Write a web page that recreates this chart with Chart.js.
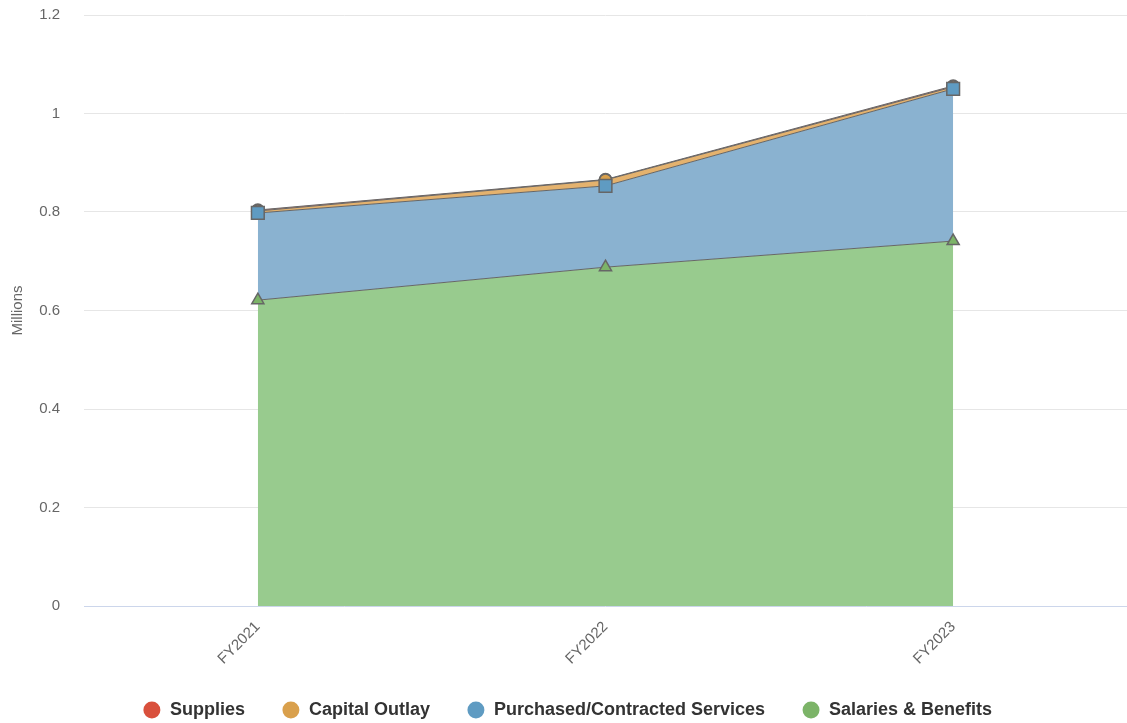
<!DOCTYPE html>
<html>
<head>
<meta charset="utf-8">
<script src="https://cdn.jsdelivr.net/npm/chart.js@4"></script>
<style>
  html, body { margin: 0; padding: 0; background: #fff; }
  #wrap { width: 1127px; height: 723px; }
</style>
</head>
<body>
<div id="wrap"><canvas id="chart" width="1127" height="723"></canvas></div>
<script>
// categories and values (millions)
const years = ["FY2021", "FY2022", "FY2023"];
const salaries = [0.621, 0.688, 0.741];
const purchased = [0.177, 0.165, 0.309];
const capital = [0.004, 0.012, 0.004];
const supplies = [0.002, 0.001, 0.002];
const yTicks = [0, 0.2, 0.4, 0.6, 0.8, 1, 1.2];

const FONT = "'Liberation Sans', Arial, sans-serif";
const LEGEND_PAD = 37;

// markers should not push the plot area in from the right edge
Chart.registry.getController("line").prototype.getMaxOverflow = function () {
  return 0;
};

function series(label, data, fillColor, pointColor, shape, radius, fill) {
  return {
    label: label,
    data: data,
    fill: fill,
    backgroundColor: fillColor,
    borderColor: "#666666",
    borderWidth: 1,
    pointStyle: shape,
    pointRadius: radius,
    pointBackgroundColor: pointColor,
    pointBorderColor: "#666666",
    pointBorderWidth: 1.5,
    tension: 0,
  };
}

// fix the legend box height so the big item gap does not eat vertical space,
// and nudge it a little to the right
const legendBox = {
  id: "legendBox",
  beforeInit(chart) {
    const fit = chart.legend.fit;
    chart.legend.fit = function () {
      fit.call(this);
      this.height = 59;
    };
  },
  afterLayout(chart) {
    chart.legend.left += 4;
    chart.legend.right += 4;
  },
};

const ctx = document.getElementById("chart").getContext("2d");
new Chart(ctx, {
  type: "line",
  data: {
    labels: years,
    datasets: [
      series("Salaries & Benefits", salaries, "rgba(152,203,142,1)", "#7cb468", "triangle", 7, "origin"),
      series("Purchased/Contracted Services", purchased, "rgba(138,178,208,1)", "#5f9bc2", "rect", 9, "-1"),
      series("Capital Outlay", capital, "rgba(228,178,110,1)", "#d9a04c", "circle", 6, "-1"),
      series("Supplies", supplies, "rgba(222,110,95,1)", "#d9503c", "circle", 6, "-1"),
    ],
  },
  plugins: [legendBox],
  options: {
    responsive: false,
    animation: false,
    layout: { padding: { top: 15, right: 0, bottom: 0, left: 0 } },
    plugins: {
      tooltip: { enabled: false },
      legend: {
        position: "bottom",
        reverse: true,
        labels: {
          usePointStyle: true,
          pointStyle: "circle",
          boxWidth: 22,
          boxHeight: 12,
          padding: LEGEND_PAD,
          color: "#333333",
          font: { family: FONT, size: 18, weight: "bold" },
          generateLabels: (chart) =>
            chart.data.datasets.map((ds, i) => ({
              text: ds.label,
              fillStyle: ds.pointBackgroundColor,
              strokeStyle: ds.pointBackgroundColor,
              lineWidth: 0,
              pointStyle: "circle",
              datasetIndex: i,
              fontColor: "#333333",
            })),
        },
      },
    },
    scales: {
      x: {
        offset: true,
        clip: false,
        grid: { display: false, drawTicks: false },
        border: { display: false },
        ticks: {
          color: "#666666",
          font: { family: FONT, size: 15 },
          minRotation: 45,
          maxRotation: 45,
          padding: 12,
        },
        afterFit: (scale) => {
          scale.height = 58;
          scale.paddingLeft = 0;
          scale.paddingRight = 0;
        },
      },
      y: {
        stacked: true,
        min: 0,
        max: 1.2,
        afterBuildTicks: (scale) => { scale.ticks = yTicks.map((v) => ({ value: v })); },
        grid: {
          color: (c) => (c.tick && c.tick.value === 0 ? "#ccd6eb" : "#e6e6e6"),
          lineWidth: 1,
          drawTicks: false,
        },
        border: { display: false },
        ticks: {
          color: "#666666",
          font: { family: FONT, size: 15 },
          padding: 24,
          callback: (v) => String(Math.round(v * 10) / 10),
        },
        title: {
          display: true,
          text: "Millions",
          color: "#666666",
          font: { family: FONT, size: 15 },
          padding: { top: 9, bottom: 0 },
        },
        afterFit: (scale) => {
          scale.width = 84;
          scale.paddingTop = 0;
          scale.paddingBottom = 0;
        },
      },
    },
  },
});
</script>
</body>
</html>
